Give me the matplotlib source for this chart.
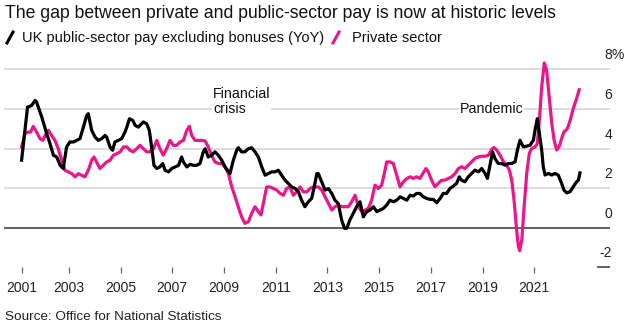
import matplotlib
matplotlib.use("Agg")
import matplotlib.pyplot as plt
from matplotlib.lines import Line2D

plt.rcParams['font.family'] = ['Liberation Sans', 'DejaVu Sans']

# public-sector pay excluding bonuses, YoY %
public_years = [2001.17, 2001.30, 2001.40, 2001.56, 2001.69, 2001.75, 2001.95, 2002.14, 2002.27, 2002.40,
                2002.53, 2002.66, 2002.78, 2002.91, 2003.04, 2003.17, 2003.30, 2003.43, 2003.56, 2003.69,
                2003.75, 2003.88, 2004.01, 2004.14, 2004.27, 2004.40, 2004.46, 2004.59, 2004.69, 2004.78,
                2004.91, 2005.04, 2005.17, 2005.24, 2005.34, 2005.47, 2005.56, 2005.69, 2005.75, 2005.88,
                2006.01, 2006.11, 2006.20, 2006.29, 2006.40, 2006.52, 2006.63, 2006.72, 2006.85, 2006.98,
                2007.11, 2007.24, 2007.36, 2007.43, 2007.56, 2007.69, 2007.81, 2007.94, 2008.07, 2008.20,
                2008.27, 2008.39, 2008.52, 2008.65, 2008.78, 2008.91, 2009.04, 2009.23, 2009.36, 2009.49,
                2009.55, 2009.68, 2009.81, 2009.94, 2010.07, 2010.20, 2010.33, 2010.46, 2010.59, 2010.71,
                2010.84, 2010.97, 2011.10, 2011.23, 2011.36, 2011.49, 2011.62, 2011.75, 2011.88, 2012.00,
                2012.13, 2012.26, 2012.39, 2012.49, 2012.59, 2012.65, 2012.78, 2012.91, 2013.04, 2013.17,
                2013.29, 2013.42, 2013.55, 2013.66, 2013.75, 2013.87, 2014.00, 2014.13, 2014.26, 2014.39,
                2014.52, 2014.65, 2014.78, 2014.91, 2015.03, 2015.16, 2015.29, 2015.42, 2015.55, 2015.68,
                2015.81, 2015.94, 2016.07, 2016.20, 2016.32, 2016.45, 2016.58, 2016.71, 2016.84, 2016.97,
                2017.10, 2017.23, 2017.36, 2017.48, 2017.61, 2017.74, 2017.87, 2018.00, 2018.10, 2018.19,
                2018.32, 2018.45, 2018.58, 2018.71, 2018.84, 2018.97, 2019.10, 2019.19, 2019.29, 2019.39,
                2019.48, 2019.61, 2019.74, 2019.87, 2020.00, 2020.13, 2020.26, 2020.35, 2020.45, 2020.58,
                2020.71, 2020.84, 2020.97, 2021.03, 2021.12, 2021.20, 2021.29, 2021.35, 2021.42, 2021.55,
                2021.68, 2021.80, 2021.93, 2022.06, 2022.15, 2022.26, 2022.39, 2022.51, 2022.64, 2022.71,
                2022.77]
public_vals = [3.41, 4.92, 6.09, 6.17, 6.43, 6.34, 5.59, 4.75, 4.24, 3.66,
               3.57, 3.15, 2.99, 4.08, 4.33, 4.33, 4.41, 4.50, 5.08, 5.67,
               5.76, 4.92, 4.58, 4.41, 4.50, 4.66, 4.58, 4.08, 3.91, 4.33,
               4.41, 4.50, 4.83, 5.08, 5.50, 5.42, 5.17, 5.08, 5.17, 5.34,
               5.25, 4.92, 4.08, 3.15, 2.99, 3.07, 3.24, 2.90, 2.82, 2.99,
               3.07, 3.15, 3.57, 3.32, 3.07, 3.20, 3.15, 3.15, 3.24, 3.83,
               3.99, 3.57, 3.66, 3.83, 3.66, 3.41, 3.07, 2.73, 3.41, 3.91,
               4.04, 3.83, 3.83, 3.99, 4.04, 3.83, 3.57, 3.07, 2.65, 2.73,
               2.82, 2.82, 2.90, 2.65, 2.40, 2.23, 2.06, 1.98, 1.81, 1.39,
               1.06, 1.31, 1.48, 2.06, 2.73, 2.73, 2.32, 1.90, 1.98, 1.73,
               1.39, 1.22, 0.39, -0.03, -0.03, 0.39, 0.72, 1.06, 1.31, 0.55,
               0.81, 0.89, 1.06, 0.81, 0.89, 0.97, 1.14, 1.39, 1.31, 1.39,
               1.56, 1.48, 1.39, 1.64, 1.60, 1.73, 1.73, 1.56, 1.48, 1.43,
               1.43, 1.26, 1.48, 1.73, 1.73, 1.98, 2.10, 2.24, 2.57, 2.40,
               2.32, 2.57, 2.74, 2.91, 2.82, 2.99, 2.74, 2.49, 3.16, 3.83,
               3.50, 3.24, 3.24, 3.16, 3.24, 3.24, 3.33, 3.92, 4.42, 4.08,
               4.12, 4.17, 4.42, 4.92, 5.51, 4.76, 3.92, 3.08, 2.66, 2.74,
               2.66, 2.74, 2.66, 2.24, 1.90, 1.76, 1.82, 2.07, 2.32, 2.40,
               2.77]

# private sector, YoY %
private_years = [2001.17, 2001.30, 2001.43, 2001.52, 2001.62, 2001.75, 2001.88, 2001.99, 2002.08, 2002.21,
                 2002.33, 2002.46, 2002.59, 2002.72, 2002.85, 2002.98, 2003.11, 2003.24, 2003.36, 2003.49,
                 2003.62, 2003.75, 2003.88, 2003.97, 2004.07, 2004.20, 2004.33, 2004.46, 2004.59, 2004.72,
                 2004.85, 2004.98, 2005.11, 2005.24, 2005.36, 2005.49, 2005.62, 2005.75, 2005.88, 2006.01,
                 2006.14, 2006.27, 2006.40, 2006.52, 2006.65, 2006.78, 2006.91, 2007.04, 2007.17, 2007.30,
                 2007.43, 2007.56, 2007.66, 2007.75, 2007.88, 2008.01, 2008.14, 2008.27, 2008.39, 2008.52,
                 2008.65, 2008.78, 2008.91, 2009.04, 2009.17, 2009.30, 2009.43, 2009.55, 2009.68, 2009.81,
                 2009.94, 2010.07, 2010.20, 2010.33, 2010.43, 2010.52, 2010.65, 2010.78, 2010.91, 2011.04,
                 2011.17, 2011.30, 2011.42, 2011.55, 2011.68, 2011.81, 2011.94, 2012.07, 2012.20, 2012.33,
                 2012.46, 2012.65, 2012.78, 2012.91, 2013.04, 2013.17, 2013.29, 2013.42, 2013.55, 2013.68,
                 2013.81, 2013.94, 2014.07, 2014.20, 2014.33, 2014.46, 2014.58, 2014.71, 2014.84, 2014.97,
                 2015.10, 2015.23, 2015.29, 2015.42, 2015.55, 2015.68, 2015.81, 2015.94, 2016.07, 2016.20,
                 2016.32, 2016.45, 2016.58, 2016.71, 2016.81, 2016.90, 2017.03, 2017.16, 2017.29, 2017.42,
                 2017.55, 2017.68, 2017.81, 2017.94, 2018.07, 2018.19, 2018.32, 2018.45, 2018.58, 2018.71,
                 2018.84, 2018.97, 2019.10, 2019.23, 2019.35, 2019.44, 2019.55, 2019.68, 2019.81, 2019.93,
                 2020.04, 2020.13, 2020.22, 2020.32, 2020.39, 2020.44, 2020.52, 2020.61, 2020.71, 2020.81,
                 2020.90, 2021.03, 2021.12, 2021.20, 2021.29, 2021.39, 2021.48, 2021.59, 2021.68, 2021.77,
                 2021.87, 2021.96, 2022.06, 2022.15, 2022.26, 2022.32, 2022.41, 2022.51, 2022.64, 2022.74]
private_vals = [4.08, 4.75, 4.83, 4.83, 5.12, 4.83, 4.50, 4.41, 4.66, 4.92,
                4.66, 4.41, 3.99, 3.41, 2.90, 2.82, 2.73, 2.57, 2.73, 2.65,
                2.57, 2.90, 3.41, 3.57, 3.32, 2.99, 3.15, 3.32, 3.41, 3.66,
                3.74, 3.83, 4.08, 4.08, 3.91, 3.83, 3.99, 4.16, 3.99, 3.83,
                3.83, 3.99, 4.41, 3.99, 3.66, 3.99, 4.41, 4.16, 4.16, 4.33,
                4.41, 4.92, 5.12, 4.66, 4.41, 4.41, 4.41, 4.38, 4.08, 3.66,
                3.32, 3.24, 3.24, 3.07, 2.73, 2.06, 1.56, 1.06, 0.55, 0.22,
                0.30, 0.72, 1.06, 0.81, 0.64, 1.22, 2.06, 2.06, 1.98, 1.90,
                1.73, 1.64, 1.98, 2.06, 1.64, 1.81, 2.06, 1.81, 1.81, 1.98,
                2.06, 2.06, 1.90, 1.56, 1.22, 0.89, 1.06, 1.14, 1.06, 1.06,
                1.06, 1.31, 1.64, 1.06, 0.81, 0.89, 0.97, 1.39, 2.15, 1.98,
                2.15, 2.90, 3.32, 3.32, 3.24, 2.65, 2.06, 2.32, 2.48, 2.57,
                2.49, 2.57, 2.49, 2.77, 2.99, 2.82, 2.40, 2.07, 2.24, 2.40,
                2.40, 2.49, 2.57, 2.74, 2.99, 3.08, 2.99, 3.16, 3.33, 3.50,
                3.58, 3.61, 3.61, 3.66, 3.95, 4.05, 3.92, 3.66, 3.33, 3.16,
                2.91, 2.40, 1.39, -0.12, -0.96, -1.16, -0.62, 1.06, 2.74, 3.75,
                4.00, 4.08, 4.25, 5.43, 7.11, 8.32, 7.95, 6.44, 5.26, 4.42,
                3.92, 4.08, 4.50, 4.84, 4.96, 5.13, 5.51, 6.02, 6.52, 6.97]

tick_years = [2001.17, 2003, 2005, 2007, 2009, 2011, 2013, 2015, 2017, 2019, 2021]
tick_labels = ['2001', '2003', '2005', '2007', '2009', '2011', '2013', '2015', '2017', '2019', '2021']
grid_vals = [2, 4, 6, 8]
ylabels = [8, 6, 4, 2, 0, -2]

W, H = 626, 327
fig = plt.figure(figsize=(W / 100, H / 100), dpi=100)
ax = fig.add_axes([4 / W, (H - 273) / H, 606 / W, 213 / H])
ax.set_xlim(2000.489, 2023.932)
ax.set_ylim(-2.288, 8.47)

for g in grid_vals:
    ax.axhline(g, color='#dddddd', lw=1.4, zorder=0)
ax.axhline(0, color='#555555', lw=1.3, zorder=1)
ax.axhline(-2, xmin=(598 - 4) / 606, xmax=1, color='#555555', lw=1.3)

ax.plot(public_years, public_vals, color='black', lw=2.3, solid_joinstyle='round', zorder=3)
ax.plot(private_years, private_vals, color='#e8178a', lw=2.3, solid_joinstyle='round', zorder=2)

for v in ylabels:
    ax.annotate(str(v) if v >= 0 else '-' + str(-v), xy=((612 - 4) / 606, v),
                xycoords=('axes fraction', 'data'), xytext=(0, 10), textcoords='offset points',
                ha='right', va='center', fontsize=10, color='#222222')
ax.annotate('%', xy=((612 - 4) / 606, 8), xycoords=('axes fraction', 'data'),
            xytext=(0, 10), textcoords='offset points', ha='left', va='center',
            fontsize=10, color='#222222')

ax.set_yticks([])
ax.set_xticks(tick_years)
ax.set_xticklabels(tick_labels)
ax.tick_params(axis='x', direction='in', length=4.3, width=0.9, color='#666666',
               pad=6, labelsize=10, labelcolor='#222222')
for s in ax.spines.values():
    s.set_visible(False)

ax.text(2008.57, 7.1, 'Financial\ncrisis', ha='left', va='top', fontsize=10.3,
        linespacing=1.05, color='#111111', zorder=4,
        bbox=dict(facecolor='white', edgecolor='none', pad=0.5))
ax.text(2018.13, 6.0, 'Pandemic', ha='left', va='center', fontsize=10.3, color='#111111', zorder=4,
        bbox=dict(facecolor='white', edgecolor='none', pad=0.5))

fig.text(5 / W, 1 - 14 / H, 'The gap between private and public-sector pay is now at historic levels',
         ha='left', va='center', fontsize=12.7, color='#111111')
fig.add_artist(Line2D([7 / W, 13 / W], [1 - 43 / H, 1 - 32 / H], color='black', lw=2.2))
fig.text(22 / W, 1 - 38 / H, 'UK public-sector pay excluding bonuses (YoY)', ha='left', va='center',
         fontsize=10.5, color='#111111')
fig.add_artist(Line2D([333 / W, 339 / W], [1 - 43 / H, 1 - 32 / H], color='#e8178a', lw=2.2))
fig.text(352 / W, 1 - 38 / H, 'Private sector', ha='left', va='center', fontsize=10.5, color='#111111')
fig.text(5 / W, 1 - 317 / H, 'Source: Office for National Statistics', ha='left', va='center',
         fontsize=9.7, color='#222222')

fig.savefig('out.png', dpi=100)
